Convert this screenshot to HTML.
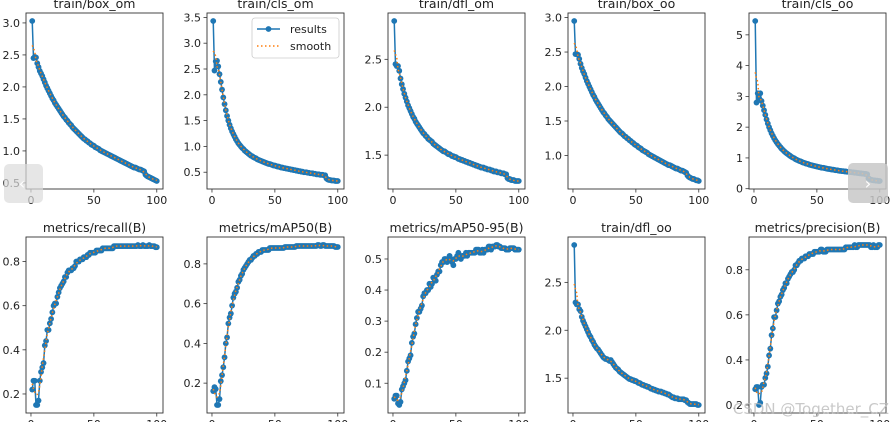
<!DOCTYPE html>
<html><head><meta charset="utf-8"><style>
body{margin:0;background:#fff;width:892px;height:422px;overflow:hidden;position:relative;font-family:"DejaVu Sans","Liberation Sans",sans-serif}
svg{position:absolute;left:0;top:0}
</style></head><body>
<svg id="chart" width="892" height="422" viewBox="0 0 892 422" xmlns="http://www.w3.org/2000/svg"></svg>
<script>
const titles=["train/box_om","train/cls_om","train/dfl_om","train/box_oo","train/cls_oo","metrics/recall(B)","metrics/mAP50(B)","metrics/mAP50-95(B)","train/dfl_oo","metrics/precision(B)"];
const epochs=Array.from({length:100},(_,i)=>i+1);
const xTicks=[0,50,100];
const yTicks=[[0.5,1.0,1.5,2.0,2.5,3.0],[0.5,1.0,1.5,2.0,2.5,3.0,3.5],[1.5,2.0,2.5],[1.0,1.5,2.0,2.5,3.0],[0,1,2,3,4,5],[0.2,0.4,0.6,0.8],[0.2,0.4,0.6,0.8],[0.1,0.2,0.3,0.4,0.5],[1.5,2.0,2.5],[0.2,0.4,0.6,0.8]];
const boxOm=[3.03,2.45,2.47,2.46,2.37,2.31,2.25,2.21,2.17,2.12,2.07,2.02,1.98,1.94,1.90,1.86,1.82,1.79,1.75,1.72,1.69,1.66,1.63,1.60,1.57,1.54,1.52,1.49,1.47,1.44,1.42,1.40,1.37,1.35,1.33,1.31,1.29,1.27,1.25,1.23,1.21,1.19,1.18,1.16,1.15,1.13,1.12,1.10,1.09,1.08,1.06,1.05,1.04,1.03,1.01,1.00,0.99,0.98,0.97,0.96,0.95,0.94,0.93,0.92,0.91,0.90,0.89,0.88,0.87,0.86,0.85,0.84,0.83,0.82,0.81,0.80,0.79,0.78,0.77,0.76,0.75,0.74,0.74,0.73,0.72,0.71,0.71,0.70,0.69,0.68,0.63,0.61,0.60,0.59,0.58,0.57,0.56,0.55,0.54,0.53];
const clsOm=[3.43,2.47,2.65,2.66,2.55,2.40,2.25,2.10,1.95,1.82,1.70,1.59,1.50,1.42,1.35,1.29,1.24,1.19,1.14,1.10,1.06,1.03,1.00,0.97,0.95,0.92,0.90,0.88,0.86,0.84,0.82,0.81,0.79,0.78,0.77,0.75,0.74,0.73,0.72,0.71,0.70,0.69,0.68,0.67,0.66,0.66,0.65,0.64,0.63,0.63,0.62,0.61,0.61,0.60,0.59,0.59,0.58,0.58,0.57,0.57,0.56,0.56,0.55,0.55,0.54,0.54,0.53,0.53,0.52,0.52,0.51,0.51,0.50,0.50,0.50,0.49,0.49,0.48,0.48,0.48,0.47,0.47,0.46,0.46,0.46,0.45,0.45,0.45,0.44,0.44,0.38,0.36,0.35,0.35,0.34,0.34,0.34,0.33,0.33,0.33];
const dflOm=[2.90,2.45,2.43,2.43,2.38,2.30,2.24,2.19,2.14,2.10,2.06,2.02,1.99,1.96,1.93,1.90,1.88,1.85,1.83,1.81,1.79,1.77,1.75,1.73,1.72,1.70,1.69,1.67,1.66,1.65,1.64,1.62,1.61,1.60,1.59,1.58,1.57,1.56,1.55,1.54,1.54,1.53,1.52,1.51,1.51,1.50,1.49,1.49,1.48,1.48,1.47,1.46,1.46,1.45,1.45,1.44,1.44,1.43,1.43,1.42,1.42,1.41,1.41,1.40,1.40,1.39,1.39,1.38,1.38,1.37,1.37,1.37,1.36,1.36,1.35,1.35,1.35,1.34,1.34,1.33,1.33,1.33,1.32,1.32,1.32,1.31,1.31,1.31,1.30,1.30,1.26,1.25,1.25,1.24,1.24,1.24,1.23,1.23,1.23,1.23];
const boxOo=[2.95,2.47,2.47,2.46,2.40,2.33,2.27,2.22,2.18,2.13,2.08,2.04,2.00,1.96,1.92,1.88,1.85,1.81,1.78,1.75,1.72,1.69,1.66,1.63,1.61,1.58,1.56,1.53,1.51,1.49,1.47,1.45,1.43,1.41,1.39,1.37,1.35,1.33,1.32,1.30,1.28,1.27,1.25,1.24,1.22,1.21,1.19,1.18,1.16,1.15,1.14,1.12,1.11,1.10,1.08,1.07,1.06,1.05,1.04,1.02,1.01,1.00,0.99,0.98,0.97,0.96,0.95,0.94,0.93,0.92,0.91,0.90,0.89,0.88,0.87,0.86,0.86,0.85,0.84,0.83,0.82,0.81,0.81,0.80,0.79,0.78,0.78,0.77,0.76,0.75,0.71,0.69,0.68,0.67,0.66,0.66,0.65,0.64,0.64,0.63];
const clsOo=[5.45,2.80,3.10,2.95,3.10,2.85,2.70,2.55,2.40,2.25,2.12,2.00,1.90,1.80,1.72,1.64,1.57,1.51,1.45,1.40,1.35,1.30,1.26,1.22,1.18,1.15,1.12,1.09,1.06,1.03,1.01,0.99,0.96,0.94,0.92,0.90,0.89,0.87,0.85,0.84,0.82,0.81,0.80,0.78,0.77,0.76,0.75,0.74,0.73,0.72,0.71,0.70,0.69,0.68,0.68,0.67,0.66,0.65,0.64,0.64,0.63,0.62,0.62,0.61,0.60,0.60,0.59,0.58,0.58,0.57,0.57,0.56,0.56,0.55,0.55,0.54,0.54,0.53,0.53,0.52,0.52,0.51,0.51,0.50,0.50,0.49,0.49,0.48,0.48,0.47,0.34,0.31,0.29,0.28,0.27,0.27,0.26,0.26,0.25,0.25];
const recall=[0.22,0.26,0.26,0.15,0.15,0.17,0.26,0.30,0.32,0.34,0.42,0.44,0.49,0.49,0.52,0.54,0.57,0.60,0.61,0.61,0.64,0.66,0.68,0.69,0.70,0.71,0.73,0.73,0.75,0.76,0.76,0.76,0.77,0.77,0.78,0.80,0.80,0.80,0.81,0.81,0.81,0.82,0.82,0.82,0.83,0.83,0.84,0.84,0.84,0.84,0.84,0.85,0.85,0.85,0.85,0.85,0.86,0.86,0.86,0.86,0.86,0.86,0.86,0.86,0.86,0.87,0.87,0.87,0.87,0.87,0.87,0.87,0.87,0.87,0.87,0.87,0.87,0.87,0.87,0.87,0.87,0.87,0.87,0.87,0.875,0.87,0.87,0.87,0.875,0.87,0.87,0.87,0.87,0.875,0.87,0.87,0.87,0.87,0.865,0.865];
const map50=[0.16,0.18,0.17,0.09,0.09,0.12,0.21,0.24,0.28,0.33,0.40,0.43,0.50,0.53,0.55,0.59,0.63,0.65,0.66,0.68,0.71,0.72,0.74,0.75,0.77,0.78,0.79,0.80,0.81,0.82,0.82,0.83,0.84,0.84,0.85,0.85,0.86,0.86,0.86,0.87,0.87,0.87,0.87,0.87,0.87,0.88,0.88,0.88,0.88,0.88,0.88,0.88,0.88,0.88,0.88,0.88,0.88,0.885,0.885,0.885,0.885,0.885,0.885,0.885,0.885,0.885,0.89,0.89,0.89,0.89,0.89,0.89,0.89,0.89,0.89,0.89,0.89,0.89,0.89,0.89,0.89,0.89,0.89,0.895,0.895,0.89,0.89,0.895,0.895,0.89,0.89,0.89,0.89,0.89,0.89,0.89,0.89,0.885,0.885,0.885];
const map5095=[0.05,0.06,0.06,0.035,0.03,0.04,0.08,0.09,0.10,0.11,0.14,0.17,0.18,0.19,0.23,0.25,0.26,0.29,0.31,0.33,0.33,0.34,0.35,0.38,0.39,0.39,0.40,0.40,0.42,0.41,0.42,0.44,0.44,0.43,0.45,0.46,0.46,0.48,0.49,0.49,0.50,0.50,0.49,0.50,0.51,0.50,0.49,0.48,0.50,0.50,0.51,0.52,0.51,0.50,0.51,0.51,0.51,0.52,0.51,0.52,0.52,0.52,0.52,0.52,0.52,0.53,0.53,0.53,0.52,0.52,0.53,0.52,0.53,0.53,0.53,0.54,0.54,0.53,0.54,0.54,0.54,0.545,0.545,0.54,0.54,0.535,0.535,0.535,0.535,0.53,0.53,0.53,0.535,0.535,0.535,0.535,0.53,0.53,0.53,0.53];
const dflOo=[2.89,2.29,2.27,2.27,2.22,2.20,2.14,2.10,2.07,2.04,2.01,1.98,1.95,1.93,1.90,1.88,1.85,1.83,1.81,1.80,1.78,1.76,1.74,1.72,1.71,1.70,1.70,1.69,1.68,1.69,1.67,1.65,1.63,1.61,1.60,1.59,1.57,1.56,1.55,1.54,1.53,1.52,1.51,1.50,1.49,1.49,1.48,1.48,1.47,1.47,1.46,1.45,1.45,1.44,1.43,1.43,1.42,1.42,1.41,1.41,1.40,1.39,1.39,1.38,1.38,1.37,1.37,1.36,1.36,1.36,1.35,1.35,1.34,1.34,1.33,1.33,1.32,1.31,1.30,1.30,1.29,1.29,1.29,1.28,1.28,1.28,1.28,1.28,1.27,1.27,1.25,1.24,1.23,1.23,1.23,1.23,1.23,1.23,1.22,1.22];
const precision=[0.27,0.28,0.28,0.20,0.21,0.28,0.29,0.29,0.32,0.34,0.37,0.42,0.45,0.51,0.54,0.59,0.59,0.62,0.65,0.66,0.68,0.69,0.71,0.72,0.74,0.74,0.76,0.77,0.78,0.79,0.79,0.80,0.82,0.82,0.83,0.84,0.84,0.85,0.85,0.85,0.86,0.86,0.86,0.87,0.87,0.87,0.87,0.88,0.88,0.88,0.88,0.88,0.89,0.89,0.88,0.88,0.88,0.89,0.89,0.89,0.89,0.89,0.89,0.89,0.89,0.89,0.89,0.89,0.89,0.89,0.89,0.89,0.90,0.90,0.90,0.90,0.90,0.90,0.90,0.91,0.90,0.90,0.91,0.91,0.91,0.91,0.91,0.91,0.91,0.91,0.91,0.91,0.90,0.90,0.91,0.90,0.90,0.90,0.91,0.91];
const series=[boxOm,clsOm,dflOm,boxOo,clsOo,recall,map50,map5095,dflOo,precision];

const NS="http://www.w3.org/2000/svg";
const svg=document.getElementById("chart");
function mk(tag,attrs,parent){const e=document.createElementNS(NS,tag);for(const k in attrs)e.setAttribute(k,attrs[k]);(parent||svg).appendChild(e);return e;}
const colL=[26,207,388,568,749],W=137;
const rowT=[13,237],H=176;
function smooth(v){const out=[];const k=2;for(let i=0;i<v.length;i++){let s=0,n=0;for(let j=Math.max(0,i-k);j<=Math.min(v.length-1,i+k);j++){s+=v[j];n++;}out.push(s/n);}return out;}
series.forEach((vals,idx)=>{
  const L=colL[idx%5],T=rowT[Math.floor(idx/5)];
  const g=mk("g",{});
  
  
  const xmin=1,xmax=100,xm=(xmax-xmin)*0.05;
  const ymin=Math.min(...vals),ymax=Math.max(...vals),ym=(ymax-ymin)*0.05;
  const xs=x=>L+(x-(xmin-xm))/((xmax+xm)-(xmin-xm))*W;
  const ys=y=>T+H-(y-(ymin-ym))/((ymax+ym)-(ymin-ym))*H;
  const t=mk("text",{x:L+W/2,y:T-5,"text-anchor":"middle","font-size":"12.5",fill:"#222"},g);t.textContent=titles[idx];
  
  xTicks.forEach(v=>{const x=xs(v);mk("line",{x1:x,x2:x,y1:T+H,y2:T+H+3.5,stroke:"#333","stroke-width":0.8},g);
    const tx=mk("text",{x:x,y:T+H+15,"text-anchor":"middle","font-size":"11",fill:"#222"},g);tx.textContent=v;
    });
  yTicks[idx].forEach(v=>{const y=ys(v);mk("line",{x1:L-3.5,x2:L,y1:y,y2:y,stroke:"#333","stroke-width":0.8},g);
    const ty=mk("text",{x:L-6,y:y+4,"text-anchor":"end","font-size":"11",fill:"#222"},g);
    ty.textContent=(idx===4?String(v):v.toFixed(1));
    });
  const pts=vals.map((v,i)=>xs(epochs[i]).toFixed(2)+","+ys(v).toFixed(2)).join(" ");
  const pl=mk("polyline",{points:pts,fill:"none",stroke:"#1f77b4","stroke-width":1.5},g);
  
  vals.forEach((v,i)=>{const c=mk("circle",{cx:xs(epochs[i]),cy:ys(v),r:2.9,fill:"#1f77b4"},g);
    });
  const sm=smooth(vals);
  const sp=mk("polyline",{points:sm.map((v,i)=>xs(epochs[i]).toFixed(2)+","+ys(v).toFixed(2)).join(" "),fill:"none",stroke:"#ff7f0e","stroke-width":1.5,"stroke-dasharray":"1.5 2.5"},g);
  
  const fr=mk("rect",{x:L,y:T,width:W,height:H,fill:"none",stroke:"#333","stroke-width":0.9},g);
  
});
const lg=mk("g",{});


mk("rect",{x:252,y:18,width:87,height:40,rx:3,fill:"#fff","fill-opacity":0.85,stroke:"#ccc","stroke-width":0.8},lg);
mk("line",{x1:257,x2:280,y1:29,y2:29,stroke:"#1f77b4","stroke-width":1.5},lg);
mk("circle",{cx:268.5,cy:29,r:2.9,fill:"#1f77b4"},lg);
const l1=mk("text",{x:290,y:33,"font-size":"11",fill:"#222"},lg);l1.textContent="results";

mk("line",{x1:257,x2:280,y1:46,y2:46,stroke:"#ff7f0e","stroke-width":1.5,"stroke-dasharray":"1.5 2.5"},lg);
const l2=mk("text",{x:290,y:50,"font-size":"11",fill:"#222"},lg);l2.textContent="smooth";

const pb=mk("g",{});


mk("rect",{x:4,y:164,width:39,height:39,rx:5,fill:"#dcdcdc","fill-opacity":0.7},pb);
const pt=mk("text",{x:22,y:189,"text-anchor":"middle","font-size":"16",fill:"#fff"},pb);pt.textContent="‹";
const nb=mk("g",{});


mk("rect",{x:848,y:163,width:40,height:40,rx:5,fill:"#c8c8c8","fill-opacity":0.85},nb);
const nt=mk("text",{x:868,y:189,"text-anchor":"middle","font-size":"16",fill:"#fff"},nb);nt.textContent="›";
const wm=mk("text",{x:889,y:414,"text-anchor":"end","font-size":"15",fill:"#bbb","fill-opacity":0.8});
wm.textContent="CSDN @Together_CZ";


</script>
</body></html>
